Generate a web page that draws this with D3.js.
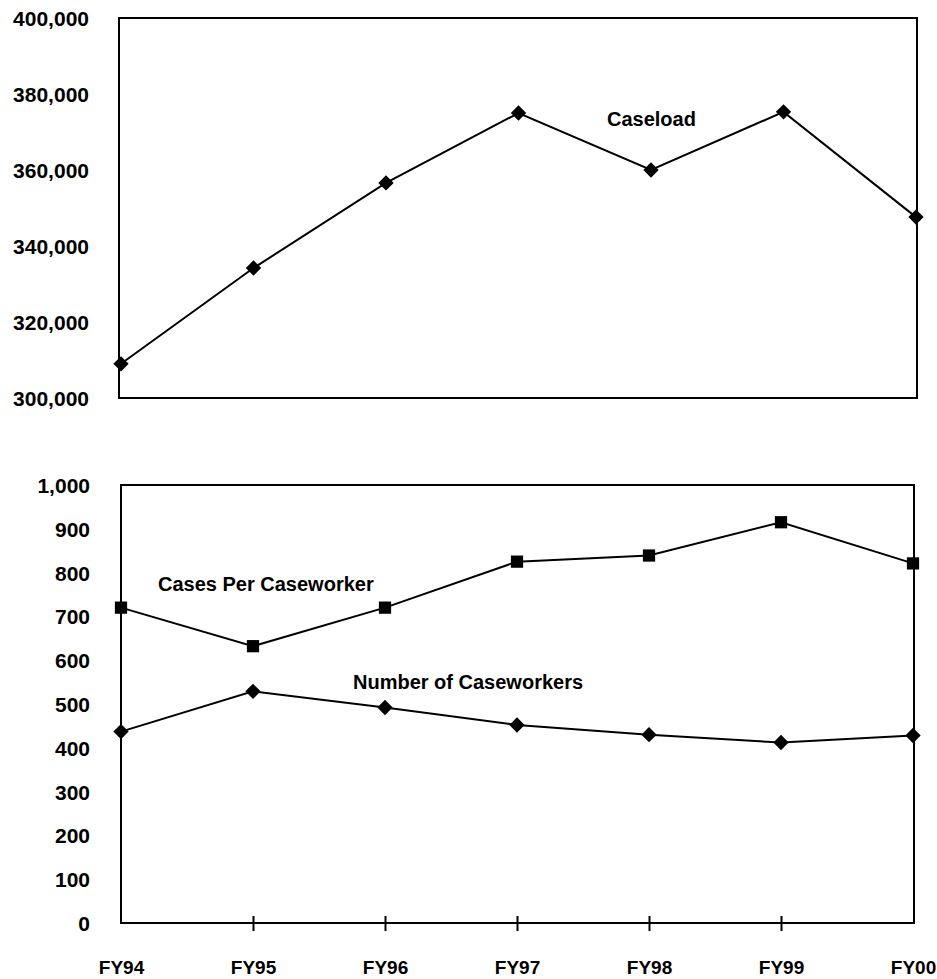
<!DOCTYPE html>
<html>
<head>
<meta charset="utf-8">
<script src="https://cdn.jsdelivr.net/npm/d3@7"></script>
<style>
  html, body { margin: 0; padding: 0; background: #fff; }
  svg text { font-family: "Liberation Sans", Arial, Helvetica, sans-serif; font-weight: bold; fill: #000; }
</style>
</head>
<body>
<svg id="chart" width="937" height="979"></svg>
<script>
// Fiscal years on the shared horizontal axis
const years = ["FY94", "FY95", "FY96", "FY97", "FY98", "FY99", "FY00"];

// Top panel: total caseload
const caseload = [309000, 334200, 356600, 375000, 360000, 375300, 347600];

// Bottom panel: staffing series
const casesPerCaseworker = [720, 632, 720, 825, 839, 915, 821];
const numberOfCaseworkers = [437, 529, 492, 452, 430, 412, 428];

// Axis tick values
const caseloadTicks = [300000, 320000, 340000, 360000, 380000, 400000];
const staffTicks = [0, 100, 200, 300, 400, 500, 600, 700, 800, 900, 1000];

const svg = d3.select("#chart");
const fmt = d3.format(",");

// ---------- Top panel ----------
const topBox = { left: 119, right: 917, top: 18, bottom: 398 };
const xTop = d3.scalePoint().domain(years).range([121, 916]);
const yTop = d3.scaleLinear().domain([300000, 400000]).range([topBox.bottom, topBox.top]);

svg.append("rect")
  .attr("x", topBox.left).attr("y", topBox.top)
  .attr("width", topBox.right - topBox.left).attr("height", topBox.bottom - topBox.top)
  .attr("fill", "none").attr("stroke", "#000").attr("stroke-width", 2);

const yAxisTop = d3.axisLeft(yTop).tickValues(caseloadTicks).tickFormat(fmt).tickSize(0).tickPadding(0);
svg.append("g")
  .attr("transform", "translate(89,0)")
  .call(yAxisTop)
  .call(g => g.select(".domain").remove())
  .call(g => g.selectAll("text").style("font-size", "21px").attr("dy", "0.36em"));

svg.append("path")
  .datum(caseload)
  .attr("fill", "none").attr("stroke", "#000").attr("stroke-width", 2)
  .attr("d", d3.line().x((d, i) => xTop(years[i])).y(d => yTop(d)));

svg.append("g").selectAll("path")
  .data(caseload)
  .join("path")
  .attr("transform", (d, i) => `translate(${xTop(years[i])},${yTop(d)})`)
  .attr("d", d3.symbol(d3.symbolDiamond2, 150))
  .attr("fill", "#000");

svg.append("text")
  .attr("x", 607).attr("y", 126)
  .style("font-size", "20px")
  .text("Caseload");

// ---------- Bottom panel ----------
const botBox = { left: 121, right: 914, top: 485, bottom: 923 };
const xBot = d3.scalePoint().domain(years).range([121, 913]);
const yBot = d3.scaleLinear().domain([0, 1000]).range([botBox.bottom, botBox.top]);

svg.append("rect")
  .attr("x", botBox.left).attr("y", botBox.top)
  .attr("width", botBox.right - botBox.left).attr("height", botBox.bottom - botBox.top)
  .attr("fill", "none").attr("stroke", "#000").attr("stroke-width", 2);

const yAxisBot = d3.axisLeft(yBot).tickValues(staffTicks).tickFormat(fmt).tickSize(0).tickPadding(0);
svg.append("g")
  .attr("transform", "translate(90,0)")
  .call(yAxisBot)
  .call(g => g.select(".domain").remove())
  .call(g => g.selectAll("text").style("font-size", "21px").attr("dy", "0.36em"));

// Category ticks crossing the bottom axis line, with year labels below
const xAxisBot = d3.axisBottom(xBot).tickSize(0).tickPadding(0);
const xg = svg.append("g")
  .attr("transform", `translate(0,${botBox.bottom})`)
  .call(xAxisBot);
xg.select(".domain").remove();
xg.selectAll("text").style("font-size", "19px").attr("y", 51).attr("dy", 0);
xg.selectAll(".tick").filter((d, i) => i > 0 && i < years.length - 1)
  .append("line")
  .attr("y1", -7).attr("y2", 8)
  .attr("stroke", "#000").attr("stroke-width", 2);

const lineBot = d3.line().x((d, i) => xBot(years[i])).y(d => yBot(d));

svg.append("path")
  .datum(casesPerCaseworker)
  .attr("fill", "none").attr("stroke", "#000").attr("stroke-width", 2)
  .attr("d", lineBot);

svg.append("path")
  .datum(numberOfCaseworkers)
  .attr("fill", "none").attr("stroke", "#000").attr("stroke-width", 2)
  .attr("d", lineBot);

svg.append("g").selectAll("path")
  .data(casesPerCaseworker)
  .join("path")
  .attr("transform", (d, i) => `translate(${xBot(years[i])},${yBot(d)})`)
  .attr("d", d3.symbol(d3.symbolSquare, 150))
  .attr("fill", "#000");

svg.append("g").selectAll("path")
  .data(numberOfCaseworkers)
  .join("path")
  .attr("transform", (d, i) => `translate(${xBot(years[i])},${yBot(d)})`)
  .attr("d", d3.symbol(d3.symbolDiamond2, 150))
  .attr("fill", "#000");

svg.append("text")
  .attr("x", 158).attr("y", 591)
  .style("font-size", "20px")
  .text("Cases Per Caseworker");

svg.append("text")
  .attr("x", 353).attr("y", 689)
  .style("font-size", "20px")
  .text("Number of Caseworkers");
</script>
</body>
</html>
